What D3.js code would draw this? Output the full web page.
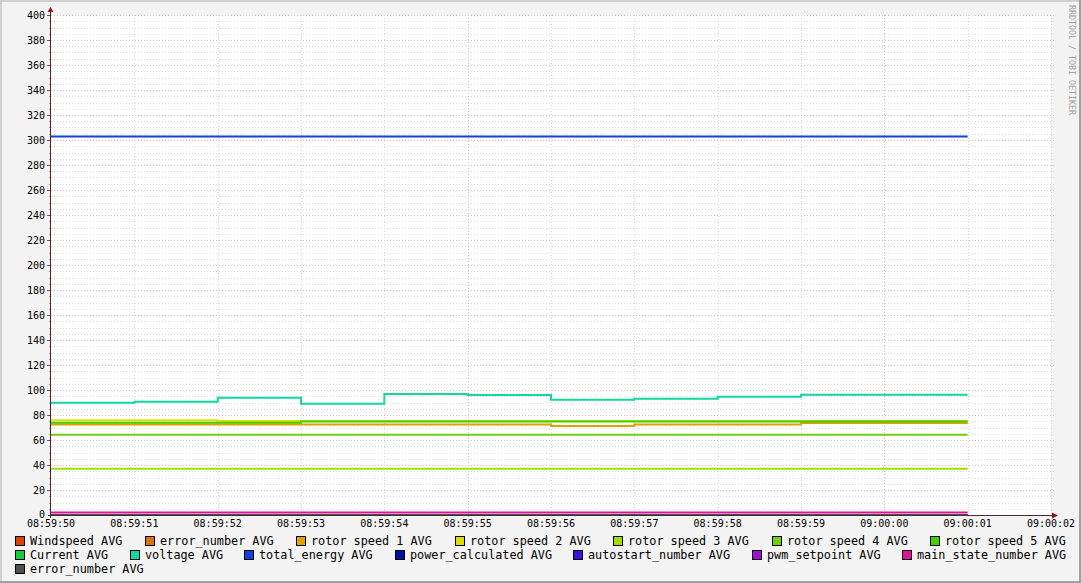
<!DOCTYPE html>
<html><head><meta charset="utf-8">
<script src="https://cdn.jsdelivr.net/npm/d3@7"></script>
<style>html,body{margin:0;padding:0;background:#f3f3f3;}svg{display:block;}</style>
</head><body>
<svg id="c" width="1081" height="583"></svg>
<script>
// ---------- data ----------
const tickLabels = ["08:59:50","08:59:51","08:59:52","08:59:53","08:59:54","08:59:55","08:59:56","08:59:57","08:59:58","08:59:59","09:00:00","09:00:01","09:00:02"];
const yTicks = [0,20,40,60,80,100,120,140,160,180,200,220,240,260,280,300,320,340,360,380,400];
// one value per 1-second step, 08:59:50 .. 09:00:01
const windspeed        = [0,0,0,0,0,0,0,0,0,0,0];
const errorNumber      = [0,0,0,0,0,0,0,0,0,0,0];
const rotorSpeed1      = [72.4,72.4,72.4,72.4,72.4,72.4,71.2,72.4,72.4,73.6,73.6];
const rotorSpeed2      = [75.8,75.8,75.2,75.2,75.2,75.2,75.2,75.2,75.2,75.2,75.2];
const rotorSpeed3      = [37,37,37,37,37,37,37,37,37,37,37];
const rotorSpeed4      = [64.2,64.2,64.2,64.2,64.2,64.2,64.2,64.2,64.2,64.2,64.2];
const rotorSpeed5      = [73.8,73.8,73.8,74.8,74.8,74.8,74.8,74.8,74.8,74.8,74.8];
const current          = [0,0,0,0,0,0,0,0,0,0,0];
const voltage          = [89.8,90.6,93.8,89.0,96.8,96.0,92.2,93.0,94.6,96.2,96.2];
const totalEnergy      = [302.8,302.8,302.8,302.8,302.8,302.8,302.8,302.8,302.8,302.8,302.8];
const powerCalculated  = [0,0,0,0,0,0,0,0,0,0,0];
const autostartNumber  = [0,0,0,0,0,0,0,0,0,0,0];
const pwmSetpoint      = [0,0,0,0,0,0,0,0,0,0,0];
const mainStateNumber  = [2,2,2,2,2,2,2,2,2,2,2];
const errorNumber2     = [0,0,0,0,0,0,0,0,0,0,0];

const seriesNames  = ["Windspeed AVG","error_number AVG","rotor speed 1 AVG","rotor speed 2 AVG","rotor speed 3 AVG","rotor speed 4 AVG","rotor speed 5 AVG","Current AVG","voltage AVG","total_energy AVG","power_calculated AVG","autostart_number AVG","pwm_setpoint AVG","main_state_number AVG","error_number AVG"];
const seriesColors = ["#e04000","#e07010","#e0a000","#dede00","#a0e000","#70d010","#40d000","#10d040","#10d8a0","#1040e0","#0010a0","#4010e0","#a010d0","#e010a0","#505050"];
const seriesValues = [windspeed,errorNumber,rotorSpeed1,rotorSpeed2,rotorSpeed3,rotorSpeed4,rotorSpeed5,current,voltage,totalEnergy,powerCalculated,autostartNumber,pwmSetpoint,mainStateNumber,errorNumber2];

// ---------- layout ----------
const svg = d3.select("#c");
const W = 1081, H = 583;
const x = d3.scaleLinear().domain([0,12]).range([51,1051]);
const y = d3.scaleLinear().domain([0,400]).range([515,15]);
const px = v => Math.round(v) + 0.5;

// frame
svg.append("rect").attr("x",0).attr("y",0).attr("width",W).attr("height",H).attr("fill","#f3f3f3");
svg.append("rect").attr("x",0).attr("y",0).attr("width",W).attr("height",2).attr("fill","#d0d0d0");
svg.append("rect").attr("x",0).attr("y",0).attr("width",2).attr("height",H).attr("fill","#d0d0d0");
svg.append("rect").attr("x",W-2).attr("y",0).attr("width",2).attr("height",H).attr("fill","#a0a0a0");
svg.append("rect").attr("x",0).attr("y",H-2).attr("width",W).attr("height",2).attr("fill","#a0a0a0");

// plot background
svg.append("rect").attr("x",51).attr("y",15).attr("width",1000).attr("height",500).attr("fill","#ffffff");

// grid
const g = svg.append("g").attr("shape-rendering","crispEdges");
for (let v = 0; v <= 400; v += 5) {
  if (v === 0) continue;
  const major = v % 20 === 0;
  g.append("line").attr("x1",51).attr("x2",1054).attr("y1",px(y(v))).attr("y2",px(y(v)))
    .attr("stroke", major ? "#ecb4b4" : "#dcdcdc").attr("stroke-dasharray","1,2");
  g.append("line").attr("x1", major ? 47 : 49).attr("x2",51).attr("y1",px(y(v))).attr("y2",px(y(v)))
    .attr("stroke", major ? "#a04040" : "#a0a0a0");
}
for (let t = 1; t <= 12; t++) {
  const major = t % 5 === 0;
  g.append("line").attr("y1",15).attr("y2",518).attr("x1",px(x(t))).attr("x2",px(x(t)))
    .attr("stroke", major ? "#ecb4b4" : "#d8d8d8").attr("stroke-dasharray","1,2");
}

// series lines
const clip = svg.append("clipPath").attr("id","pc");
clip.append("rect").attr("x",51).attr("y",15).attr("width",1001).attr("height",500);
const line = d3.line().x(d => x(d[0])).y(d => y(d[1])).curve(d3.curveStepAfter);
const lg = svg.append("g").attr("clip-path","url(#pc)");
seriesValues.forEach((vals, i) => {
  const pts = vals.map((v, k) => [k, v]);
  pts.push([vals.length, vals[vals.length - 1]]);
  lg.append("path").attr("d", line(pts)).attr("fill","none")
    .attr("stroke", seriesColors[i]).attr("stroke-width", 2);
});

// axes
const axisCol = "#4a2828", arrowCol = "#8a1818";
g.append("line").attr("x1",50.5).attr("x2",50.5).attr("y1",10).attr("y2",518).attr("stroke",axisCol);
g.append("line").attr("x1",48).attr("x2",1054).attr("y1",515.5).attr("y2",515.5).attr("stroke",axisCol);
svg.append("path").attr("d","M47.5,12 L50.5,7 L53.5,12 Z").attr("fill",arrowCol);
svg.append("path").attr("d","M1052,512.5 L1058,515.5 L1052,518.5 Z").attr("fill",arrowCol);

// tick labels
const tf = "'DejaVu Sans Mono', monospace";
svg.append("g").selectAll("text").data(yTicks).join("text")
  .attr("x",45).attr("y", d => y(d) + 3.5 - (d === 0 ? 1 : 0)).attr("text-anchor","end")
  .attr("font-family",tf).attr("font-size","10px").attr("fill","#000").text(d => d);
svg.append("g").selectAll("text").data(tickLabels).join("text")
  .attr("x",(d,i) => x(i)).attr("y",527).attr("text-anchor","middle")
  .attr("font-family",tf).attr("font-size","10px").attr("fill","#000").text(d => d);

// watermark
svg.append("text").attr("transform","translate(1069,5) rotate(90)")
  .attr("font-family",tf).attr("font-size","8.3px").attr("fill","#a0a0a0")
  .text("RRDTOOL / TOBI OETIKER");

// legend (justified rows like rrdtool)
const rows = [[0,1,2,3,4,5,6],[7,8,9,10,11,12,13],[14]];
const rowY = [541,555,569];
const left = 15, right = 1066;
const leg = svg.append("g");
rows.forEach((row, r) => {
  const items = row.map(i => {
    const gi = leg.append("g");
    gi.append("rect").attr("x",0.5).attr("y",-4.5).attr("width",9).attr("height",9)
      .attr("fill", seriesColors[i]).attr("stroke","#000").attr("stroke-width",1);
    const t = gi.append("text").attr("x",15).attr("y",4)
      .attr("font-family",tf).attr("font-size","11.8px").attr("fill","#000").text(seriesNames[i]);
    const w = 15 + t.node().getComputedTextLength();
    return {gi, w};
  });
  const total = d3.sum(items, d => d.w);
  const gap = items.length > 1 ? (right - left - total) / (items.length - 1) : 0;
  let cx = left;
  items.forEach(it => {
    it.gi.attr("transform", `translate(${Math.round(cx)},${rowY[r]})`);
    cx += it.w + gap;
  });
});
</script>
</body></html>
